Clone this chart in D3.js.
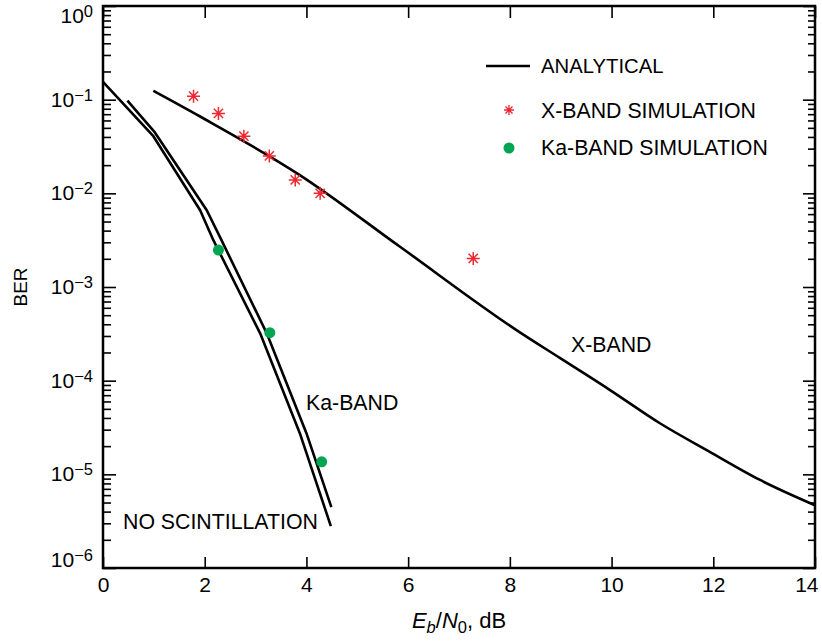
<!DOCTYPE html>
<html>
<head>
<meta charset="utf-8">
<script src="https://cdn.jsdelivr.net/npm/d3@7"></script>
<style>
  html, body { margin: 0; padding: 0; background: #fff; }
  svg { display: block; font-family: "Liberation Sans", Arial, Helvetica, sans-serif; }
</style>
</head>
<body>
<svg id="chart" width="822" height="642"></svg>
<script>
// ---- data ----
const xTickValues = [0, 2, 4, 6, 8, 10, 12, 14];
const yExponents = [0, -1, -2, -3, -4, -5, -6];

// Analytical X-band curve
const xBandEbN0 = [0.99, 1.91, 3.87, 5.84, 8.13, 8.99, 9.97, 10.95, 11.93, 12.92, 14.0];
const xBandBER  = [0.1245, 0.0661, 0.01567, 0.00269, 3.47e-4, 1.74e-4, 7.94e-5, 3.51e-5, 1.74e-5, 8.71e-6, 4.68e-6];

// Analytical Ka-band curve (with scintillation)
const kaBandEbN0 = [0.48, 1.02, 2.04, 2.33, 3.22, 4.0, 4.49];
const kaBandBER  = [0.0977, 0.0447, 0.0066, 0.00316, 3.2e-4, 2.75e-5, 4.47e-6];

// Analytical curve, no scintillation
const noScintEbN0 = [0, 0.99, 1.91, 2.17, 3.09, 3.87, 4.48];
const noScintBER  = [0.155, 0.0407, 0.0066, 0.00316, 3.2e-4, 2.75e-5, 2.8e-6];

// Simulation points
const xSimEbN0 = [1.78, 2.27, 2.77, 3.27, 3.78, 4.27, 7.28];
const xSimBER  = [0.109, 0.0713, 0.0408, 0.0251, 0.0139, 0.0100, 0.00202];
const kaSimEbN0 = [2.27, 3.28, 4.30];
const kaSimBER  = [0.00248, 3.25e-4, 1.36e-5];

const legendLabels = ["ANALYTICAL", "X-BAND SIMULATION", "Ka-BAND SIMULATION"];
const curveLabels = ["X-BAND", "Ka-BAND", "NO SCINTILLATION"];

// ---- layout ----
const L = 103, R = 815, T = 6, B = 568;
const RED = "#ee2830", GREEN = "#00a651";

const svg = d3.select("#chart");
const x = d3.scaleLinear().domain([0, 14]).range([L, R]);
const y = d3.scaleLog().domain([1e-6, 1]).range([B, T]);

const majorY = yExponents.map(e => Math.pow(10, e));
const minorY = [];
for (let e = -6; e < 0; e++) for (let m = 2; m <= 9; m++) minorY.push(m * Math.pow(10, e));

function styleAxis(g) {
  g.select(".domain").remove();
  g.selectAll(".tick line").attr("stroke", "#000").attr("stroke-width", 1.6);
}

// bottom axis
svg.append("g").attr("transform", `translate(0,${B})`)
  .call(d3.axisBottom(x).tickValues(xTickValues).tickSize(-11).tickPadding(14).tickFormat(d3.format("d")))
  .call(styleAxis)
  .call(g => g.selectAll(".tick text").attr("font-size", 21).attr("fill", "#000")
        .attr("font-family", "Liberation Sans, Arial, sans-serif").attr("dy", "0.72em").attr("y", 9)
        .filter(d => d === 14).attr("text-anchor", "end").attr("x", 3));
// top axis
svg.append("g").attr("transform", `translate(0,${T})`)
  .call(d3.axisTop(x).tickValues(xTickValues).tickSize(-12).tickFormat(""))
  .call(styleAxis);
// left axis major + minor
svg.append("g").attr("transform", `translate(${L},0)`)
  .call(d3.axisLeft(y).tickValues(majorY).tickSize(-13).tickFormat(""))
  .call(styleAxis);
svg.append("g").attr("transform", `translate(${L},0)`)
  .call(d3.axisLeft(y).tickValues(minorY).tickSize(-8).tickFormat(""))
  .call(styleAxis);
// right axis major + minor
svg.append("g").attr("transform", `translate(${R},0)`)
  .call(d3.axisRight(y).tickValues(majorY).tickSize(-12).tickFormat(""))
  .call(styleAxis);
svg.append("g").attr("transform", `translate(${R},0)`)
  .call(d3.axisRight(y).tickValues(minorY).tickSize(-7).tickFormat(""))
  .call(styleAxis);

// frame
svg.append("rect").attr("x", L).attr("y", T).attr("width", R - L).attr("height", B - T)
  .attr("fill", "none").attr("stroke", "#000").attr("stroke-width", 2.5);

// y tick labels 10^n
yExponents.forEach(e => {
  let yy = y(Math.pow(10, e)) + 7;
  if (e === 0) yy += 10;
  if (e === -6) yy -= 8;
  const t = svg.append("text").attr("x", 93).attr("y", yy).attr("text-anchor", "end")
    .attr("font-size", 21).attr("fill", "#000");
  t.append("tspan").text("10");
  t.append("tspan").attr("dy", -6).attr("font-size", 16.5).text(e === 0 ? "0" : "\u2212" + (-e));
});

// axis titles
svg.append("text").attr("transform", "translate(27,287) rotate(-90)").attr("text-anchor", "middle")
  .attr("font-size", 19).text("BER");
const xt = svg.append("text").attr("x", 459).attr("y", 628).attr("text-anchor", "middle").attr("font-size", 22);
xt.append("tspan").attr("font-style", "italic").text("E");
xt.append("tspan").attr("font-style", "italic").attr("font-size", 16.5).attr("dy", 5).text("b");
xt.append("tspan").attr("dy", -5).text("/");
xt.append("tspan").attr("font-style", "italic").text("N");
xt.append("tspan").attr("font-size", 16.5).attr("dy", 5).text("0");
xt.append("tspan").attr("dy", -5).text(", dB");

// curves
const lineSmooth = d3.line().x(d => x(d[0])).y(d => y(d[1])).curve(d3.curveMonotoneX);
const lineStraight = d3.line().x(d => x(d[0])).y(d => y(d[1]));
function drawCurve(xs, ys, gen) {
  svg.append("path").datum(xs.map((v, i) => [v, ys[i]]))
    .attr("d", gen).attr("fill", "none").attr("stroke", "#000")
    .attr("stroke-width", 2.6).attr("stroke-linejoin", "round");
}
drawCurve(xBandEbN0, xBandBER, lineSmooth);
drawCurve(kaBandEbN0, kaBandBER, lineStraight);
drawCurve(noScintEbN0, noScintBER, lineStraight);

// star marker
function star(g, cx, cy, r, sw) {
  const d = [];
  for (let k = 0; k < 4; k++) {
    const a = k * Math.PI / 4;
    const dx = r * Math.cos(a), dy = r * Math.sin(a);
    d.push(`M${cx - dx},${cy - dy}L${cx + dx},${cy + dy}`);
  }
  g.append("path").attr("d", d.join("")).attr("stroke", RED).attr("stroke-width", sw).attr("fill", "none");
}
xSimEbN0.forEach((v, i) => star(svg, x(v), y(xSimBER[i]), 6.5, 1.5));
svg.selectAll("circle.ka").data(kaSimEbN0.map((v, i) => [v, kaSimBER[i]])).enter()
  .append("circle").attr("class", "ka").attr("cx", d => x(d[0])).attr("cy", d => y(d[1]))
  .attr("r", 5.5).attr("fill", GREEN);

// curve labels
svg.append("text").attr("x", 571).attr("y", 352).attr("font-size", 21.3).text(curveLabels[0]);
svg.append("text").attr("x", 306).attr("y", 410).attr("font-size", 21.3).text(curveLabels[1]);
svg.append("text").attr("x", 123).attr("y", 529).attr("font-size", 21.3).text(curveLabels[2]);

// legend
svg.append("line").attr("x1", 486).attr("x2", 530).attr("y1", 66).attr("y2", 66)
  .attr("stroke", "#000").attr("stroke-width", 2.6);
star(svg, 509, 110, 5, 1.3);
svg.append("circle").attr("cx", 509).attr("cy", 148).attr("r", 5.5).attr("fill", GREEN);
[73, 118, 155].forEach((yy, i) =>
  svg.append("text").attr("x", 541).attr("y", yy).attr("font-size", i === 0 ? 20.3 : 21.3).text(legendLabels[i]));
</script>
</body>
</html>
